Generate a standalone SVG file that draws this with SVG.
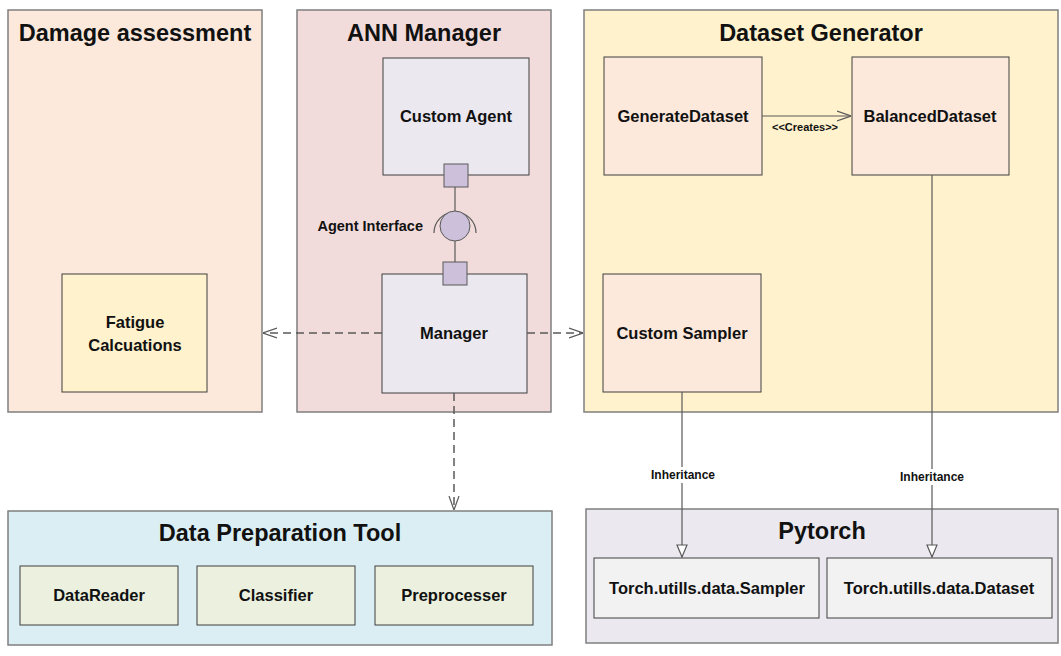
<svg xmlns="http://www.w3.org/2000/svg" width="1061" height="656" viewBox="0 0 1061 656">
<style>
.pkg{stroke:#7f7f7f;stroke-width:1.5}
.node{stroke:#3f3f3f;stroke-width:1}
.title{font-family:"Liberation Sans",Arial,sans-serif;font-size:23.5px;font-weight:bold;fill:#111;text-anchor:middle}
.lbl{font-family:"Liberation Sans",Arial,sans-serif;font-size:16.5px;font-weight:bold;fill:#111;text-anchor:middle}
.small{font-family:"Liberation Sans",Arial,sans-serif;font-size:12px;font-weight:bold;fill:#111;text-anchor:middle}
.dash{fill:none;stroke:#595959;stroke-width:1.5;stroke-dasharray:8 5}
.solid{fill:none;stroke:#595959;stroke-width:1.2}
.port{fill:#ccc0da;stroke:#595959;stroke-width:1}
</style>
<defs>
<marker id="open" viewBox="0 0 14 12" refX="14" refY="6" markerWidth="14" markerHeight="12" markerUnits="userSpaceOnUse" orient="auto">
<path d="M0,1 L14,6 L0,11" fill="none" stroke="#595959" stroke-width="1.2"/>
</marker>
<marker id="tri" viewBox="0 0 14 12" refX="13" refY="6" markerWidth="14" markerHeight="12" markerUnits="userSpaceOnUse" orient="auto">
<path d="M1,1 L13,6 L1,11 Z" fill="#fff" stroke="#595959" stroke-width="1.2"/>
</marker>
</defs>
<rect width="1061" height="656" fill="#fff"/>

<g id="damage-assessment">
<rect class="pkg" x="8" y="10" width="254" height="402" fill="#fce9dc"/>
<text class="title" x="135" y="41">Damage assessment</text>
</g>
<g id="ann-manager">
<rect class="pkg" x="297" y="10" width="254" height="402" fill="#f2dcdb"/>
<text class="title" x="424" y="41">ANN Manager</text>
</g>
<g id="dataset-generator">
<rect class="pkg" x="584" y="10" width="474" height="402" fill="#fff2cc"/>
<text class="title" x="821" y="41">Dataset Generator</text>
</g>
<g id="data-preparation-tool">
<rect class="pkg" x="8" y="511" width="544" height="134" fill="#dbeef4"/>
<text class="title" x="280" y="541">Data Preparation Tool</text>
</g>
<g id="pytorch">
<rect class="pkg" x="586" y="509" width="472" height="134" fill="#ebe9ef"/>
<text class="title" x="822" y="539">Pytorch</text>
</g>

<g id="fatigue-calculations">
<rect class="node" x="62" y="274" width="145" height="118" fill="#fff2cc"/>
<text class="lbl" x="135" y="328">Fatigue</text>
<text class="lbl" x="135" y="351">Calcuations</text>
</g>
<g id="custom-agent">
<rect class="node" x="383" y="58" width="146" height="117" fill="#ebe8f0"/>
<text class="lbl" x="456" y="122">Custom Agent</text>
</g>
<g id="manager">
<rect class="node" x="382" y="274" width="145" height="119" fill="#ebe8f0"/>
<text class="lbl" x="454" y="339">Manager</text>
</g>
<g id="generate-dataset">
<rect class="node" x="604" y="57" width="158" height="118" fill="#fce9dc"/>
<text class="lbl" x="683" y="122">GenerateDataset</text>
</g>
<g id="balanced-dataset">
<rect class="node" x="852" y="57" width="157" height="118" fill="#fce9dc"/>
<text class="lbl" x="930" y="122">BalancedDataset</text>
</g>
<g id="custom-sampler">
<rect class="node" x="603" y="274" width="158" height="118" fill="#fce9dc"/>
<text class="lbl" x="682" y="339">Custom Sampler</text>
</g>
<g id="datareader">
<rect class="node" x="20" y="566" width="158" height="59" fill="#ebf1de"/>
<text class="lbl" x="99" y="601">DataReader</text>
</g>
<g id="classifier">
<rect class="node" x="197" y="566" width="158" height="59" fill="#ebf1de"/>
<text class="lbl" x="276" y="601">Classifier</text>
</g>
<g id="preprocesser">
<rect class="node" x="375" y="566" width="158" height="59" fill="#ebf1de"/>
<text class="lbl" x="454" y="601">Preprocesser</text>
</g>
<g id="torch-sampler">
<rect class="node" x="594" y="558" width="225" height="60" fill="#f2f2f2"/>
<text class="lbl" x="707" y="594">Torch.utills.data.Sampler</text>
</g>
<g id="torch-dataset">
<rect class="node" x="827" y="558" width="225" height="60" fill="#f2f2f2"/>
<text class="lbl" x="939" y="594">Torch.utills.data.Dataset</text>
</g>

<g id="connectors">
<line class="solid" x1="455" y1="187" x2="455" y2="211"/>
<line class="solid" x1="455" y1="241" x2="455" y2="262"/>
<g id="agent-interface">
<path d="M434,233 A21,21 0 0 1 476,233" fill="none" stroke="#595959" stroke-width="1.2"/>
<ellipse cx="455" cy="226" rx="15" ry="15" fill="#ccc0da" stroke="#595959" stroke-width="1"/>
<text class="lbl" x="423" y="231" style="font-size:14.5px;text-anchor:end">Agent Interface</text>
</g>
<rect class="port" x="444" y="164" width="24" height="23"/>
<rect class="port" x="443" y="262" width="24" height="23"/>
<line class="dash" x1="382" y1="333" x2="263" y2="333" marker-end="url(#open)"/>
<line class="dash" x1="527" y1="333" x2="583" y2="333" marker-end="url(#open)"/>
<line class="dash" x1="454" y1="393" x2="454" y2="510" marker-end="url(#open)"/>
<line class="solid" x1="762" y1="116" x2="851" y2="116" marker-end="url(#open)"/>
<text class="small" x="805" y="131" style="font-size:11px">&lt;&lt;Creates&gt;&gt;</text>
<line class="solid" x1="682" y1="392" x2="682" y2="557" marker-end="url(#tri)"/>
<line class="solid" x1="932" y1="175" x2="932" y2="557" marker-end="url(#tri)"/>
<rect x="648" y="467" width="70" height="16" fill="#fff"/>
<text class="small" x="683" y="479">Inheritance</text>
<rect x="897" y="469" width="70" height="16" fill="#fff"/>
<text class="small" x="932" y="481">Inheritance</text>
</g>
</svg>
